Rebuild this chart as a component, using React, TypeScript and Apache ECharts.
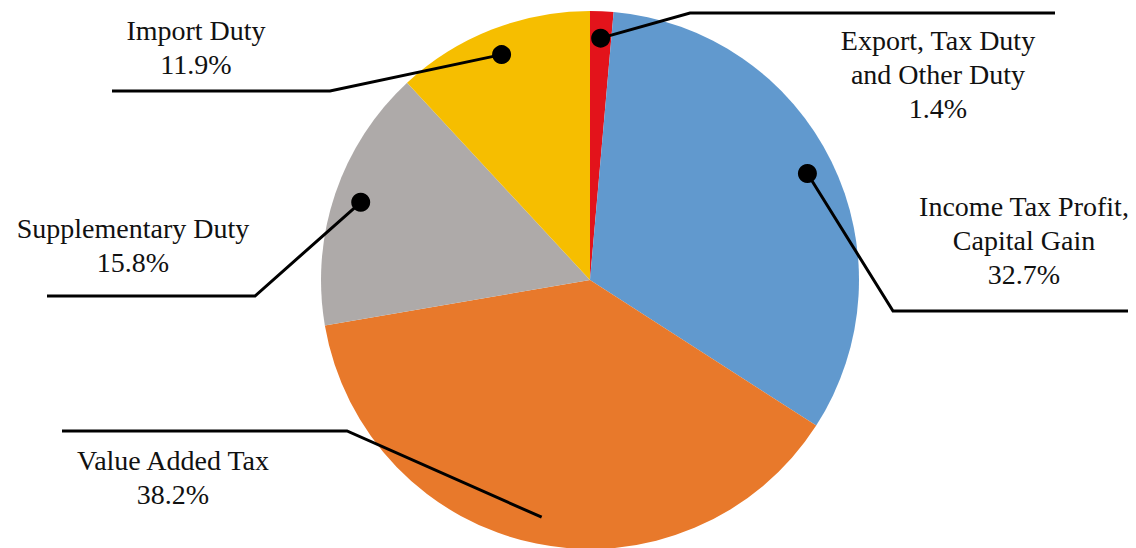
import React, { useEffect, useRef } from "react";
import * as echarts from "echarts";

// ---- data ----
const categories = [
  "Export, Tax Duty\nand Other Duty",
  "Income Tax Profit,\nCapital Gain",
  "Value Added Tax",
  "Supplementary Duty",
  "Import Duty",
];
const shares = [1.4, 32.7, 38.2, 15.8, 11.9];
const hasDot = [true, true, false, true, true];

// ---- styles / layout ----
const colors = ["#E3131B", "#6199CE", "#E8792B", "#AEAAA9", "#F6BE00"];
const CENTER: [number, number] = [590, 280];
const RADIUS = 269;
const ANCHOR_FRAC = 0.9;
const labelPos = [
  { x: 938, y: 74 },
  { x: 1024, y: 240 },
  { x: 173, y: 477 },
  { x: 133, y: 245 },
  { x: 196, y: 47 },
];
const lineElbow = [
  [690, 13],
  [893, 311],
  [347, 431],
  [255, 296],
  [330, 91],
];
const lineEnd = [
  [1055, 13],
  [1128, 311],
  [62, 431],
  [47, 296],
  [112, 91],
];

const FONT = "'Liberation Serif', 'Times New Roman', serif";

export default function App() {
  const ref = useRef<HTMLDivElement>(null);
  useEffect(() => {
    if (!ref.current) return;
    const chart = echarts.init(ref.current, undefined, { renderer: "svg" });
    const total = shares.reduce((a, b) => a + b, 0);
    const mids: number[] = [];
    let acc = 0;
    shares.forEach((v) => {
      mids.push(((acc + v / 2) / total) * 100);
      acc += v;
    });
    const pieData = categories.map((name, i) => ({
      name,
      value: shares[i],
      itemStyle: { color: colors[i] },
    }));
    const anchorR = RADIUS * ANCHOR_FRAC;
    chart.setOption({
      animation: false,
      polar: { center: CENTER, radius: RADIUS },
      angleAxis: {
        type: "value",
        min: 0,
        max: 100,
        startAngle: 90,
        clockwise: true,
        show: false,
      },
      radiusAxis: { type: "value", min: 0, max: 1, show: false },
      series: [
        {
          type: "pie",
          z: 1,
          center: CENTER,
          radius: RADIUS,
          startAngle: 90,
          clockwise: true,
          silent: true,
          label: { show: false },
          labelLine: { show: false },
          data: pieData,
        },
        {
          type: "pie",
          z: 5,
          center: CENTER,
          radius: anchorR,
          startAngle: 90,
          clockwise: true,
          silent: true,
          avoidLabelOverlap: false,
          itemStyle: { color: "rgba(0,0,0,0)" },
          data: categories.map((name, i) => ({
            name,
            value: shares[i],
          })),
          label: {
            show: true,
            position: "outside",
            fontFamily: FONT,
            fontSize: 28,
            lineHeight: 34,
            color: "#111",
            align: "center",
            formatter: (p: any) => `${p.name}\n${Number(p.value).toFixed(1)}%`,
          },
          labelLine: {
            show: true,
            length: 10,
            length2: 10,
            smooth: false,
            lineStyle: { color: "#000", width: 3, opacity: 1 },
          },
          labelLayout: (params: any) => {
            const i = params.dataIndex;
            let p0 = params.labelLinePoints && params.labelLinePoints[0];
            if (!p0) {
              const ang = ((mids[i] / 100) * 360 * Math.PI) / 180;
              p0 = [CENTER[0] + anchorR * Math.sin(ang), CENTER[1] - anchorR * Math.cos(ang)];
            }
            return {
              x: labelPos[i].x,
              y: labelPos[i].y,
              align: "center",
              verticalAlign: "middle",
              labelLinePoints: [p0, lineElbow[i], lineEnd[i]],
            };
          },
        },
        {
          type: "scatter",
          coordinateSystem: "polar",
          silent: true,
          symbol: "circle",
          symbolSize: 19,
          itemStyle: { color: "#000", opacity: 1 },
          z: 10,
          data: mids
            .map((m, i) => (hasDot[i] ? [ANCHOR_FRAC, m] : null))
            .filter((d) => d !== null),
        },
      ],
    });
    return () => chart.dispose();
  }, []);
  return (
    <div
      ref={ref}
      style={{ position: "fixed", left: 0, top: 0, width: 1136, height: 548, background: "#fff" }}
    />
  );
}
